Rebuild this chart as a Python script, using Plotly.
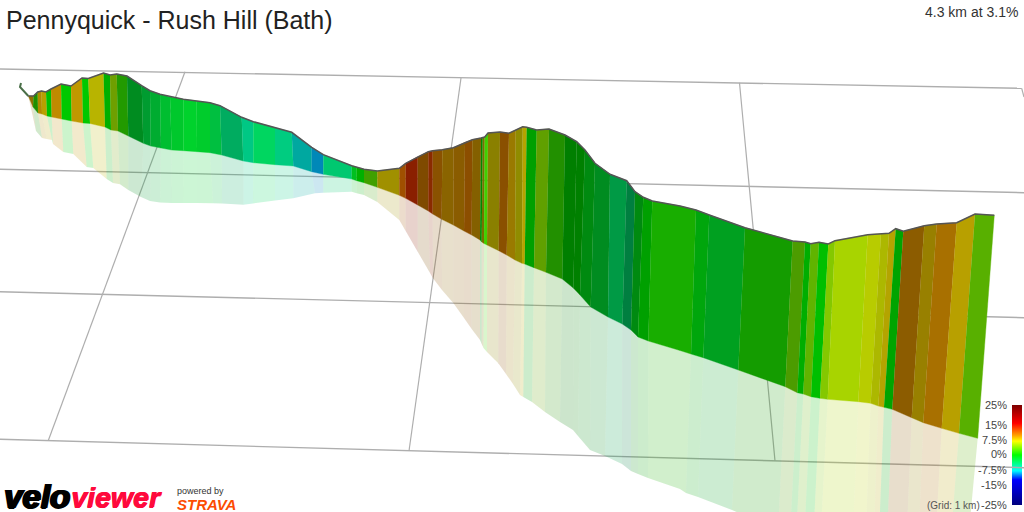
import plotly.graph_objects as go
import numpy as np

top_x = [28.3,33.5,37.7,41.5,46,51,61,71,82,88.3,103.5,110,116.7,127,141.7,150,160,170,183.3,196.7,
         210,220,241.7,253.3,275,291.7,311.7,323.3,351.7,356.7,364,377.3,399.3,405.7,417.7,428.3,432.7,442.3,453.3,465,
         472.3,481,482.7,484.7,488,500,509,515.7,522.7,526.7,536.7,549,565,576.7,585,595,610,626.7,635,643.3,
         652.3,680,696,709.3,745,792.7,805,810.7,819,828.3,835,867.7,881,889,895.7,903.3,924.3,936.7,956.7,975,994.3]
top_y = [96,96,92,91,92,89,84,86,78,78.5,73,75,74,76,85.7,90.7,94.3,96.7,99.3,101,
         102.7,105.7,117.3,121.7,127.7,132.3,147.3,154.7,165.7,167.3,169.3,171,168.3,163.3,156.7,151.7,150.7,149.7,147.7,142.3,
         139.7,138,137.7,137,133,132,133.3,130,126.7,127.3,130,129,135,141.7,150,163.3,174.3,180.7,191.7,197.3,
         201,206,210,215,227.7,241,242,243.7,242.3,244,240.7,234.7,233.7,233.3,228.7,231.3,225.7,224,222.7,214,215.3]
base_x = [28.3,33,38,42,47,51.7,61.7,71.7,83,90,105,111,118,128.3,143.3,150.7,161,171.7,183.3,197,
          210,221.7,243.3,253.3,275,293.3,311.7,323.3,351.7,356.7,364,377.3,399.3,405.7,417.7,428.3,432.7,441.7,453.3,464,
          471.7,480,481.7,484,487,498.7,506.7,515,522,524.7,534,546,562.3,573.3,580,590.7,608,622.3,631,638,
          648.3,680,691,703.3,738.3,785.3,797.3,803.3,811,820,827.7,858.3,870.7,878.3,884,892.3,911.7,923.3,941.7,959,977.7]
base_y = [96,107,113,114,116,117,119,121,123,123.5,127,130,131,136,143.3,146,148,150,150.7,151.7,
          152.7,155,161,162.7,164.7,166,171.7,174.3,179,180.7,182.7,187.3,195.3,198.3,205,211,214,219.3,225,231,
          235,240,242,243.5,245,250.7,255,260,263.3,264,267.7,272.3,279,288,295,307,317,324,330,337,
          341,350.5,354,357.7,370,386.7,392.7,394,396.7,398.3,399.3,401.7,403.3,406,407.3,409.3,417.7,422.7,428.3,433.3,438.3]
shadow_x = [28.3,36,42,46.7,52,53,63.3,73.3,86.7,93.3,106.7,113,120,128.3,141,150,160,172,183,197,
            213,222,243.3,253,275,293.3,315,323.3,351.7,356.7,364,377.3,399.3,405.7,417.7,430,433,442,453.3,464,
            471.7,480,481.7,483.5,487,498.3,506,513,520,523.3,532,545,560,573,578,590,605,622,631,638,
            648,680,686,698,732,778,790,796,804,813,820,852,865,873,878,886,905,917,933,947,963]
shadow_y = [96,131,138,139,140,144,152,154,167,168,179,183,184.3,190,197,201,202.5,203,203,203,
            203.3,203.5,204.7,203.5,200.5,198.3,193.3,192.7,191.7,193.3,195,202,220,231,251.7,273,278.3,290,303,318,
            329,340,344,348,352,363.3,374,384,395,397,402,412,422,430,436,450,456,464,471,474,
            478,489,493,497,510,530,535,540,543,546,548,555,558,560,562,565,575,580,585,590,595]
# one colour per piece between two neighbouring boundaries
piece_colours = ["#8f7000","#1f8f00","#b08a00","#b8a000","#00c000","#c08a00","#00c800","#c09800","#00c800","#b8b400",
                 "#00b000","#6f9f00","#229a00","#008c20","#009c30","#00ac30","#00be30","#00c82c","#00d22c","#00cc2c",
                 "#00bf40","#00ac60","#00c884","#00d660","#00cc80","#00a8a0","#0088b8","#00c870","#00c020","#00b000",
                 "#40a000","#a09000","#a05000","#8a1f00","#7f4a00","#8a2a00","#8a5200","#8a6400","#8a5c00","#8c4e00",
                 "#846000","#008800","#7a7000","#40d000","#8a8000","#8a5000","#9a7a00","#908c00","#b4a400","#00a000",
                 "#60a000","#229000","#007f00","#008000","#008a10","#008c20","#009a45","#007f40","#008a10","#00a000",
                 "#18ae00","#18ae00","#00a60c","#00a020","#149c00","#4c9c00","#00ae00","#60b400","#00bf00","#84c800",
                 "#a8d400","#b8cc00","#acb800","#b4a400","#00a400","#8c5c00","#988000","#a87000","#b8a000","#58b000"]

tail_x = [21,20,28.3]
tail_y = [83,87,96]

grid_h = [
    ([0,1021.7],[69,88.3]),
    ([0,1024],[169.3,192.7]),
    ([0,1024],[291.7,317.7]),
    ([0,1024],[439.3,467.7]),
]
grid_v = [
    ([1021.7,1024],[88.3,97]),
    ([185,48.3],[71.7,440.5]),
    ([461,409],[78,451]),
    ([739.5,775],[82.7,461]),
]

legend_labels = ["25%","15%","7.5%","0%","-7.5%","-15%","-25%"]
legend_label_y = [405,425,440,454,470,485,505]
legend_scale = [[0,"#800000"],[0.18,"#ff0000"],[0.3,"#ffa000"],[0.36,"#ffff00"],[0.5,"#00ff00"],
                [0.66,"#00ffff"],[0.75,"#0000ff"],[1,"#000080"]]

def pale(hexcol, alpha=0.2):
    r,g,b = int(hexcol[1:3],16), int(hexcol[3:5],16), int(hexcol[5:7],16)
    return "rgba(%d,%d,%d,%s)" % (r,g,b,alpha)

fig = go.Figure()

# colour bar first so it stays underneath
rows = np.arange(405,505)
fig.add_trace(go.Heatmap(x=[1012,1022], y=np.arange(405,506), z=[[r] for r in rows], colorscale=legend_scale,
                         showscale=False, hoverinfo="skip"))

for gx,gy in grid_h:
    fig.add_trace(go.Scatter(x=gx, y=gy, mode="lines", line=dict(color="#aeaeae",width=1.4), hoverinfo="skip"))
for gx,gy in grid_v:
    fig.add_trace(go.Scatter(x=gx, y=gy, mode="lines", line=dict(color="#aeaeae",width=1.2), hoverinfo="skip"))

for i,c in enumerate(piece_colours):
    fig.add_trace(go.Scatter(
        x=[base_x[i],base_x[i+1],shadow_x[i+1],shadow_x[i]], y=[base_y[i],base_y[i+1],shadow_y[i+1],shadow_y[i]],
        mode="lines", fill="toself", fillcolor=pale(c), line=dict(width=0), hoverinfo="skip"))

for i,c in enumerate(piece_colours):
    fig.add_trace(go.Scatter(
        x=[top_x[i],top_x[i+1],base_x[i+1],base_x[i]], y=[top_y[i],top_y[i+1],base_y[i+1],base_y[i]],
        mode="lines", fill="toself", fillcolor=c, line=dict(color=c,width=0.4), hoverinfo="skip"))

fig.add_trace(go.Scatter(x=top_x, y=top_y, mode="lines", line=dict(color="#555555",width=1.5), hoverinfo="skip"))
fig.add_trace(go.Scatter(x=tail_x, y=tail_y, mode="lines", line=dict(color="#4a6f48",width=2), hoverinfo="skip"))

def label(x, y, text, size, color, anchor="left", font="Liberation Sans", **kw):
    fig.add_annotation(x=x, y=y, text=text, showarrow=False, xanchor=anchor, yanchor="middle",
                       font=dict(family=font,size=size,color=color,**kw))

label(4, 20, "Pennyquick - Rush Hill (Bath)", 25, "#222222")
label(1020, 12, "4.3 km at 3.1%", 14, "#333333", "right")
for t,ly in zip(legend_labels,legend_label_y):
    label(1008.5, ly, t, 11, "#444444", "right")
label(981.5, 505, "(Grid: 1 km)", 10, "#555555", "right")

heavy_k = "1.5px 0 0 #000000, -1px 0 0 #000000, 0 1px 0 #000000"
heavy_r = "1px 0 0 #ff0a3c, 0 1px 0 #ff0a3c"
label(2, 496, "<b><i>velo</i></b>", 33, "#000000", shadow=heavy_k)
label(69, 497, "<b><i>viewer</i></b>", 28.5, "#ff0a3c", shadow=heavy_r)
label(175, 491, "powered by", 9, "#333333")
label(175, 504, "<b><i>STRAVA</i></b>", 15, "#fc4c02")

fig.update_xaxes(range=[0,1024], visible=False, fixedrange=True)
fig.update_yaxes(range=[512,0], visible=False, fixedrange=True)
fig.update_layout(width=1024, height=512, margin=dict(l=0,r=0,t=0,b=0), showlegend=False,
                  paper_bgcolor="white", plot_bgcolor="white")

fig.write_html("out.html", config=dict(displayModeBar=False),
               post_script="document.body.style.margin='0';document.body.style.overflow='hidden';")
